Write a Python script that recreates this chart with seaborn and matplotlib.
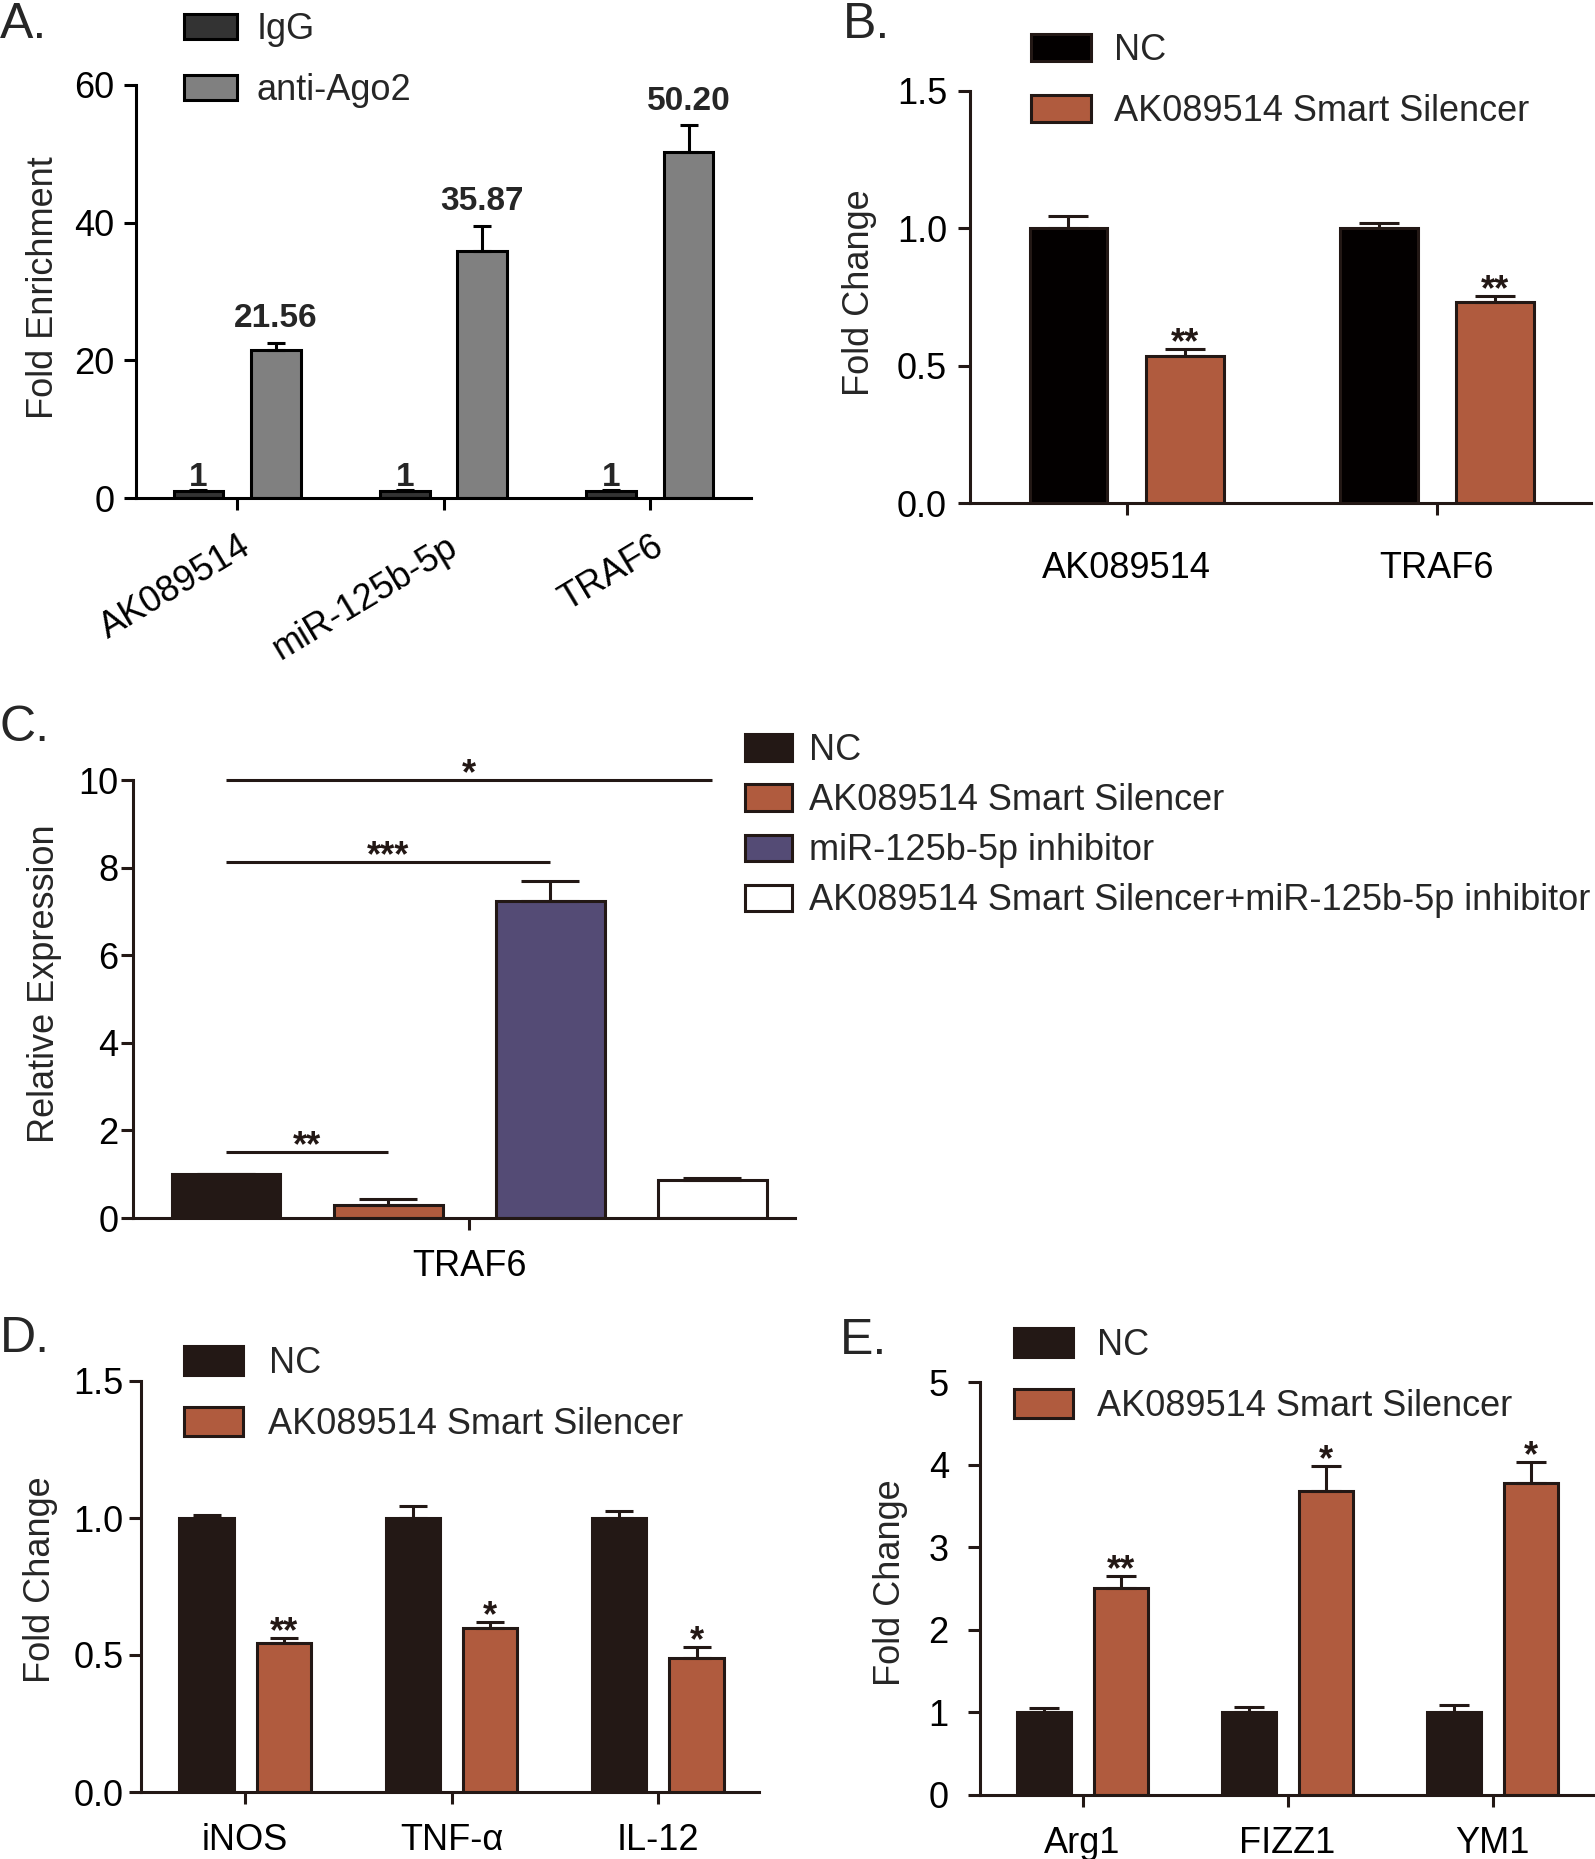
import numpy as np
import pandas as pd
import matplotlib
matplotlib.use("Agg")
import matplotlib.pyplot as plt
import seaborn as sns
from matplotlib.patches import Patch
from matplotlib.transforms import ScaledTranslation

# ---------------- data ----------------
# Panel A
genes_A = ["AK089514", "miR-125b-5p", "TRAF6"]
groups_A = ["IgG", "anti-Ago2"]
igg_A = [1.0, 1.0, 1.0]
igg_err_A = [0.2, 0.2, 0.2]
ago2_A = [21.56, 35.87, 50.20]
ago2_err_A = [1.0, 3.7, 4.0]
igg_lbl_A = ["1", "1", "1"]
ago2_lbl_A = ["21.56", "35.87", "50.20"]
yticks_A = [0, 20, 40, 60]

# Panel B
genes_B = ["AK089514", "TRAF6"]
groups_B = ["NC", "AK089514 Smart Silencer"]
nc_B = [1.0, 1.0]
nc_err_B = [0.046, 0.02]
sil_B = [0.535, 0.73]
sil_err_B = [0.025, 0.024]
stars_B = ["**", "**"]
yticks_B = [0.0, 0.5, 1.0, 1.5]

# Panel C
genes_C = ["TRAF6"]
groups_C = ["NC", "AK089514 Smart Silencer", "miR-125b-5p inhibitor",
            "AK089514 Smart Silencer+miR-125b-5p inhibitor"]
vals_C = [1.0, 0.3, 7.24, 0.86]
err_C = [0.0, 0.13, 0.45, 0.05]
sig_pairs_C = [(0, 1), (0, 2), (0, 3)]
sig_y_C = [1.5, 8.12, 10.0]
sig_lbl_C = ["**", "***", "*"]
yticks_C = [0, 2, 4, 6, 8, 10]

# Panel D
genes_D = ["iNOS", "TNF-α", "IL-12"]
groups_D = ["NC", "AK089514 Smart Silencer"]
nc_D = [1.0, 1.0, 1.0]
nc_err_D = [0.012, 0.045, 0.025]
sil_D = [0.545, 0.598, 0.49]
sil_err_D = [0.017, 0.022, 0.041]
stars_D = ["**", "*", "*"]
yticks_D = [0.0, 0.5, 1.0, 1.5]

# Panel E
genes_E = ["Arg1", "FIZZ1", "YM1"]
groups_E = ["NC", "AK089514 Smart Silencer"]
nc_E = [1.0, 1.0, 1.0]
nc_err_E = [0.05, 0.065, 0.085]
sil_E = [2.51, 3.68, 3.78]
sil_err_E = [0.14, 0.30, 0.25]
stars_E = ["**", "*", "*"]
yticks_E = [0, 1, 2, 3, 4, 5]

# ---------------- style ----------------
sns.set_theme(style="ticks")
plt.rcParams["font.family"] = ["Liberation Sans", "DejaVu Sans"]
plt.rcParams["axes.unicode_minus"] = False

W, H = 1595, 1859
DPI = 100
fig = plt.figure(figsize=(W / DPI, H / DPI), dpi=DPI)

LW = 2.2       # ~3 px
FS = 26
DARK = "#231815"
RUST = "#B05B3E"
PURPLE = "#544B75"


def px_axes(l, r, t, b):
    return fig.add_axes([l / W, 1 - b / H, (r - l) / W, (b - t) / H])


def bars(ax, cats, groups, series, errs, colors, edge, width, gap, capsize):
    rows = []
    for g, s in zip(groups, series):
        for c, v in zip(cats, s):
            rows.append({"cat": c, "grp": g, "val": v})
    df = pd.DataFrame(rows)
    sns.barplot(data=df, x="cat", y="val", hue="grp", order=cats,
                hue_order=groups, palette=colors, saturation=1,
                width=width, gap=gap, edgecolor=edge, linewidth=LW,
                errorbar=None, legend=False, ax=ax)
    centers, tops = [], []
    for cont, e in zip(ax.containers, errs):
        xs = [p.get_x() + p.get_width() / 2 for p in cont.patches]
        ys = [p.get_height() for p in cont.patches]
        ax.errorbar(xs, ys, yerr=[np.zeros(len(e)), e], fmt="none",
                    ecolor=edge, elinewidth=LW, capsize=capsize,
                    capthick=LW, zorder=3)
        centers.append(xs)
        tops.append([y + ee for y, ee in zip(ys, e)])
    return centers, tops


def style(ax, edge, yticks, xlim, ypad, xpad):
    sns.despine(ax=ax)
    for sp in ("left", "bottom"):
        ax.spines[sp].set_linewidth(LW)
        ax.spines[sp].set_color(edge)
    ax.set_ylim(yticks[0], yticks[-1])
    ax.set_yticks(yticks)
    ax.set_xlim(*xlim)
    ax.tick_params(axis="both", direction="out", length=8.5, width=LW,
                   color=edge, labelsize=FS, labelcolor="black")
    ax.tick_params(axis="y", pad=ypad)
    ax.tick_params(axis="x", pad=xpad)
    ax.set_xlabel("")


def ylab(ax, text, x, y=0.5):
    ax.set_ylabel(text, fontsize=FS, va="center")
    ax.yaxis.set_label_coords(x, y)


def legend(handles_cols, labels, edge, left, top, hl, hh, ls, htp):
    handles = [Patch(facecolor=c, edgecolor=edge, linewidth=LW) for c in handles_cols]
    fig.legend(handles, labels, loc="upper left",
               bbox_to_anchor=(left / W, 1 - top / H), frameon=False,
               fontsize=FS, borderpad=0, borderaxespad=0,
               handlelength=hl, handleheight=hh, labelspacing=ls,
               handletextpad=htp)


def panel_letter(text, x, y):
    fig.text(x / W, 1 - y / H, text, fontsize=36, ha="left", va="top")


def stars(ax, centers, tops, labels, size=FS):
    for x, y, s in zip(centers, tops, labels):
        ax.annotate(s, (x, y), xytext=(0, -3), textcoords="offset points",
                    ha="center", va="baseline", fontsize=size, color=DARK,
                    fontweight="bold")


# ---------------- Panel A ----------------
axA = px_axes(136, 751, 85, 498)
cA, tA = bars(axA, genes_A, groups_A, [igg_A, ago2_A], [igg_err_A, ago2_err_A],
              ["#333333", "#808080"], "black", 0.75, 0.36, 6.5)
style(axA, "black", yticks_A, (-0.49, 2.49), 7, 14)
for x, y, s in zip(cA[0], tA[0], igg_lbl_A):
    axA.annotate(s, (x, y), xytext=(0, 3), textcoords="offset points",
                 ha="center", va="baseline", fontsize=24, fontweight="bold")
for x, y, s in zip(cA[1], tA[1], ago2_lbl_A):
    axA.annotate(s, (x, y), xytext=(0, 11), textcoords="offset points",
                 ha="center", va="baseline", fontsize=24, fontweight="bold")
offA = ScaledTranslation(2 / DPI, 0, fig.dpi_scale_trans)
for lab in axA.get_xticklabels():
    lab.set_rotation(31)
    lab.set_ha("right")
    lab.set_va("top")
    lab.set_rotation_mode("anchor")
    lab.set_transform(lab.get_transform() + offA)
ylab(axA, "Fold Enrichment", (44 - 136) / 615, 0.51)
legend(["#333333", "#808080"], groups_A, "black", 184, 12, 1.47, 0.7, 0.72, 0.53)
panel_letter("A.", 0, 2)

# ---------------- Panel B ----------------
axB = px_axes(970, 1591, 91, 503)
cB, tB = bars(axB, genes_B, groups_B, [nc_B, sil_B], [nc_err_B, sil_err_B],
              ["#030000", RUST], DARK, 0.75, 0.33, 14.5)
style(axB, DARK, yticks_B, (-0.505, 1.497), 8, 26)
stars(axB, cB[1], tB[1], stars_B)
ylab(axB, "Fold Change", (860 - 970) / 621, 0.51)
legend(["#030000", RUST], groups_B, DARK, 1031, 33, 1.66, 0.8, 0.72, 0.64)
panel_letter("B.", 843, 2)

# ---------------- Panel C ----------------
axC = px_axes(133, 795, 780, 1218)
cC, tC = bars(axC, genes_C, groups_C, [[v] for v in vals_C], [[e] for e in err_C],
              [DARK, RUST, PURPLE, "white"], DARK, 0.8, 0.33, 21)
style(axC, DARK, yticks_C, (-0.415, 0.402), 2, 14)
for (i, j), y, s in zip(sig_pairs_C, sig_y_C, sig_lbl_C):
    x0, x1 = cC[i][0], cC[j][0]
    axC.plot([x0, x1], [y, y], color=DARK, lw=LW, clip_on=False,
             solid_capstyle="butt")
    axC.annotate(s, ((x0 + x1) / 2, y), xytext=(0, -3), textcoords="offset points",
                 ha="center", va="baseline", fontsize=FS, color=DARK,
                 fontweight="bold", annotation_clip=False)
ylab(axC, "Relative Expression", -0.134, 0.534)
legend([DARK, RUST, PURPLE, "white"], groups_C, DARK, 745, 733, 1.3, 0.75, 0.42, 0.47)
panel_letter("C.", 0, 705)

# ---------------- Panel D ----------------
axD = px_axes(141, 759, 1381, 1792)
cD, tD = bars(axD, genes_D, groups_D, [nc_D, sil_D], [nc_err_D, sil_err_D],
              [DARK, RUST], DARK, 0.75, 0.3, 10)
style(axD, DARK, yticks_D, (-0.505, 2.49), 4, 14)
stars(axD, cD[1], tD[1], stars_D)
ylab(axD, "Fold Change", (41 - 141) / 618, 0.516)
legend([DARK, RUST], groups_D, DARK, 184, 1346, 1.62, 0.86, 0.72, 0.72)
panel_letter("D.", 0, 1316)

# ---------------- Panel E ----------------
axE = px_axes(980, 1595, 1382, 1795)
cE, tE = bars(axE, genes_E, groups_E, [nc_E, sil_E], [nc_err_E, sil_err_E],
              [DARK, RUST], DARK, 0.75, 0.3, 11)
style(axE, DARK, yticks_E, (-0.5, 2.5), 14, 14)
stars(axE, cE[1], tE[1], stars_E)
ylab(axE, "Fold Change", -0.146, 0.513)
legend([DARK, RUST], groups_E, DARK, 1014, 1328, 1.62, 0.86, 0.72, 0.69)
panel_letter("E.", 840, 1318)

fig.savefig("out.png", dpi=DPI)
